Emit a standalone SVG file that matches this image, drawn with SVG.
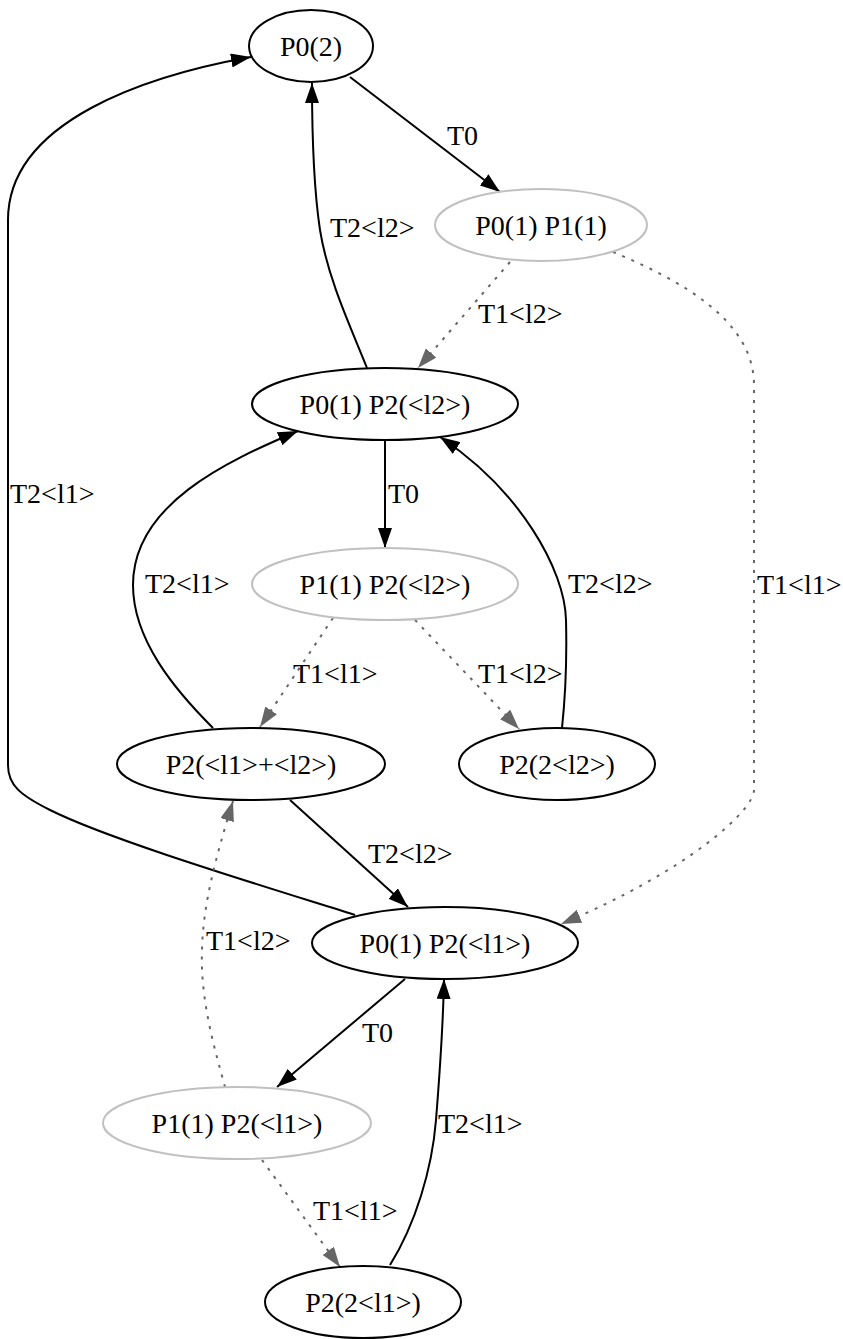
<svg xmlns="http://www.w3.org/2000/svg" width="843" height="1339" viewBox="0 0 843 1339">
<style>
text{font-family:"Liberation Serif","Times New Roman",serif;font-size:28px;fill:#000}
.n ellipse{fill:none;stroke:#000;stroke-width:2}
.g ellipse{stroke:#c0c0c0}
.n text{text-anchor:middle}
.e{fill:none;stroke:#000;stroke-width:2;marker-end:url(#ab)}
.d{fill:none;stroke:#666;stroke-width:2;stroke-dasharray:3 7;marker-end:url(#ag)}
</style>
<defs>
<marker id="ab" viewBox="0 0 20 14" refX="20" refY="7" markerWidth="20" markerHeight="14" markerUnits="userSpaceOnUse" orient="auto"><path d="M0,0L20,7L0,14z" fill="#000"/></marker>
<marker id="ag" viewBox="0 0 20 14" refX="20" refY="7" markerWidth="20" markerHeight="14" markerUnits="userSpaceOnUse" orient="auto"><path d="M0,0L20,7L0,14z" fill="#666"/></marker>
</defs>
<rect width="843" height="1339" fill="#fff"/>
<g id="edges">
<path class="e" d="M350,77 L500,192"/>
<path class="e" d="M367,368 C352,330 328,280 320,230 C314,190 312,140 312,83"/>
<path class="d" d="M510,262 L418,368"/>
<path class="d" d="M613,252 C680,280 754,320 754,385 L754,790 C754,810 690,870 561,924"/>
<path class="e" d="M385,440 L385,548"/>
<path class="e" d="M213,728 C175,690 133,640 133,585 C133,505 225,462 298,431"/>
<path class="d" d="M333,618 L260,727"/>
<path class="d" d="M415,620 L519,729"/>
<path class="e" d="M562,728 C565,700 567,660 566,620 C565,570 520,490 440,437"/>
<path class="e" d="M290,800 L408,907"/>
<path class="e" d="M355,915 C260,885 110,840 50,810 C20,795 8,785 8,765 L8,220 C8,120 150,75 251,57"/>
<path class="e" d="M405,979 L277,1087"/>
<path class="e" d="M390,1265 C415,1225 432,1170 436,1120 C440,1070 443,1030 444,979"/>
<path class="d" d="M262,1160 L340,1267"/>
<path class="d" d="M225,1087 C215,1050 200,1000 202,950 C203,905 215,860 233,801"/>
<text x="447" y="145">T0</text>
<text x="330" y="237">T2&lt;l2&gt;</text>
<text x="478" y="323">T1&lt;l2&gt;</text>
<text x="757" y="594">T1&lt;l1&gt;</text>
<text x="388" y="503">T0</text>
<text x="10" y="503">T2&lt;l1&gt;</text>
<text x="145" y="593">T2&lt;l1&gt;</text>
<text x="568" y="593">T2&lt;l2&gt;</text>
<text x="293" y="683">T1&lt;l1&gt;</text>
<text x="478" y="683">T1&lt;l2&gt;</text>
<text x="368" y="863">T2&lt;l2&gt;</text>
<text x="206" y="950">T1&lt;l2&gt;</text>
<text x="362" y="1042">T0</text>
<text x="438" y="1133">T2&lt;l1&gt;</text>
<text x="313" y="1220">T1&lt;l1&gt;</text>
</g>
<g id="n0" class="n"><ellipse cx="311" cy="46" rx="62" ry="36"/><text x="311" y="56">P0(2)</text></g>
<g id="n1" class="n g"><ellipse cx="541" cy="225" rx="106" ry="36"/><text x="541" y="235">P0(1) P1(1)</text></g>
<g id="n2" class="n"><ellipse cx="385" cy="404" rx="133" ry="36"/><text x="385" y="414">P0(1) P2(&lt;l2&gt;)</text></g>
<g id="n3" class="n g"><ellipse cx="385" cy="584" rx="133" ry="36"/><text x="385" y="594">P1(1) P2(&lt;l2&gt;)</text></g>
<g id="n4" class="n"><ellipse cx="251" cy="764" rx="134" ry="36"/><text x="251" y="774">P2(&lt;l1&gt;+&lt;l2&gt;)</text></g>
<g id="n5" class="n"><ellipse cx="557" cy="764" rx="98" ry="36"/><text x="557" y="774">P2(2&lt;l2&gt;)</text></g>
<g id="n6" class="n"><ellipse cx="445" cy="943" rx="133" ry="36"/><text x="445" y="953">P0(1) P2(&lt;l1&gt;)</text></g>
<g id="n7" class="n g"><ellipse cx="237" cy="1123" rx="134" ry="36"/><text x="237" y="1133">P1(1) P2(&lt;l1&gt;)</text></g>
<g id="n8" class="n"><ellipse cx="363" cy="1302" rx="98" ry="36"/><text x="363" y="1312">P2(2&lt;l1&gt;)</text></g>
</svg>
